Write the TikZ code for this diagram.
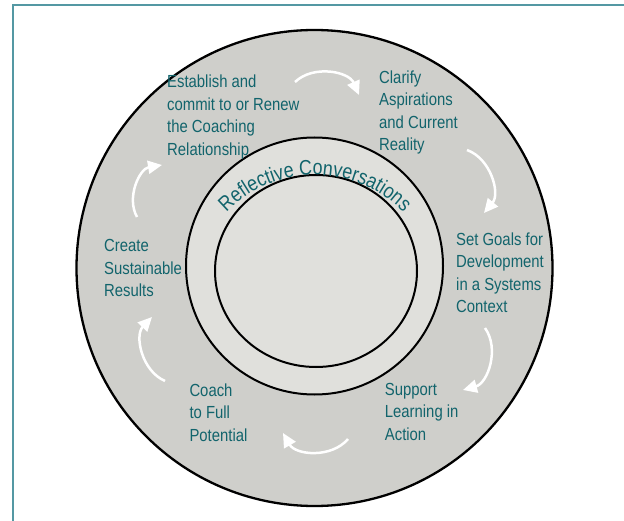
\documentclass[tikz,border=0pt]{standalone}
\usepackage{fontspec}
\setmainfont{Liberation Sans}[FakeStretch=0.85]
\usetikzlibrary{arrows.meta,decorations.text}
\definecolor{frame}{RGB}{84,152,163}
\definecolor{ring}{RGB}{207,207,203}
\definecolor{core}{RGB}{224,224,220}
\definecolor{label}{RGB}{18,100,108}

\tikzset{
  % base west sits on the last line
  stage/.style={anchor=base west, inner sep=0pt, align=left, text=label,
    font=\fontsize{17.5}{22.5}\selectfont},
  cyclearrow/.style={draw=white, line width=2.5pt,
    -{Triangle[length=14pt,width=13pt]}, bend left=55}
}

\begin{document}
\begin{tikzpicture}[x=1pt, y=1pt]
\useasboundingbox (0,0) rectangle (624,-521);
% frame
\draw[frame, line width=2.4pt] (12.8,-521) -- (12.8,-5.3) -- (624,-5.3);
% rings
\draw[line width=2.3pt, fill=ring] (314.5,-268) circle[radius=238];
\draw[line width=2pt, fill=core] (314.5,-266) circle[radius=128.5];
\draw[line width=2pt, fill=core] (316,-271) ellipse[x radius=101, y radius=96];
% text on the inner ring
\path[decorate, decoration={text along path, text align=center, text color=label,
  text={|\fontsize{21}{21}\selectfont|Reflective Conversations}}]
  (315,-298) ++(139:123) arc[start angle=139, end angle=41, radius=123];
% stages
\node[stage] (establish) at (167,-155.5) {Establish and\\commit to or Renew\\the Coaching\\Relationship};
\node[stage] (clarify) at (379,-151) {Clarify\\Aspirations\\and Current\\Reality};
\node[stage] (goals) at (456,-313) {Set Goals for\\Development\\in a Systems\\Context};
\node[stage] (support) at (384.7,-440) {Support\\Learning in\\Action};
\node[stage] (coach) at (189.3,-441) {Coach\\to Full\\Potential};
\node[stage] (create) at (104,-297) {Create\\Sustainable\\Results};
% arrow ends
\coordinate (a1) at (295,-82);   \coordinate (b1) at (359,-95);
\coordinate (a2) at (467,-150);  \coordinate (b2) at (484,-213);
\coordinate (a3) at (485,-328);  \coordinate (b3) at (463,-390);
\coordinate (a4) at (348,-439);  \coordinate (b4) at (283,-433);
\coordinate (a5) at (165,-381);  \coordinate (b5) at (152,-317);
\coordinate (a6) at (137,-217);  \coordinate (b6) at (162,-165);
\foreach \i in {1,...,6}
  \draw[cyclearrow] (a\i) to (b\i);
\end{tikzpicture}
\end{document}
